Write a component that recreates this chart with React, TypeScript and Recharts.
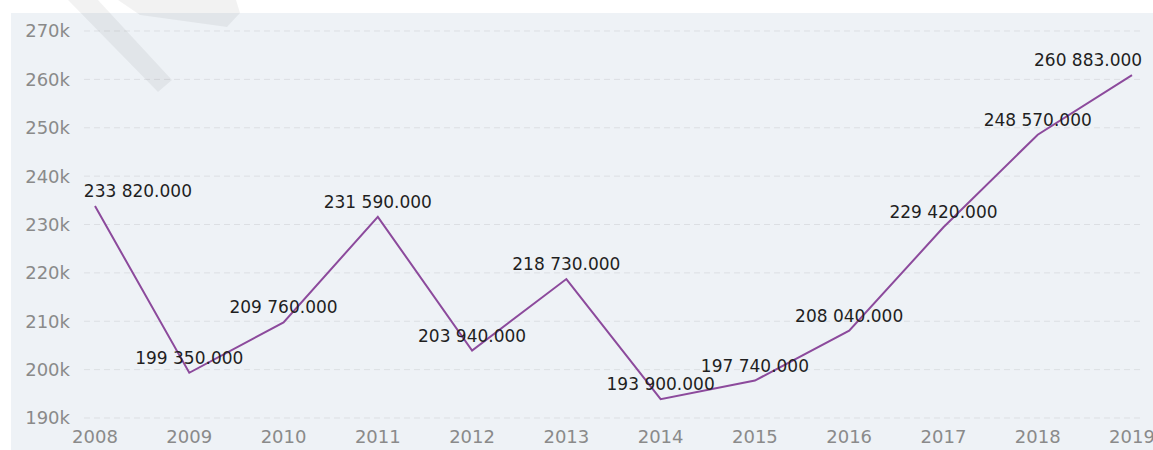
import { CartesianGrid, LabelList, Line, LineChart, XAxis, YAxis } from 'recharts'

const years = ['2008', '2009', '2010', '2011', '2012', '2013', '2014', '2015', '2016', '2017', '2018', '2019']
const values = [233820, 199350, 209760, 231590, 203940, 218730, 193900, 197740, 208040, 229420, 248570, 260883]
const yTicks = [190000, 200000, 210000, 220000, 230000, 240000, 250000, 260000, 270000]

const data = years.map((year, i) => ({ year, value: values[i] }))

const W = 1153
const H = 450
const PLOT_LEFT = 84
const PLOT_RIGHT = 1142
const FONT = '"DejaVu Sans", Verdana, sans-serif'

function fmt(v: number) {
  const [int, dec] = v.toFixed(3).split('.')
  return `${int.replace(/\B(?=(\d{3})+(?!\d))/g, ' ')}.${dec}`
}

// labels sit above the point, pushed back inside the plot at the edges
function PointLabel(props: any) {
  const { x, y, value } = props
  const text = fmt(value)
  const w = text.length * 9.8
  let cx = x
  if (cx - w / 2 < PLOT_LEFT) cx = PLOT_LEFT + w / 2
  if (cx + w / 2 > PLOT_RIGHT) cx = PLOT_RIGHT - w / 2
  return (
    <text
      x={cx}
      y={y - 9}
      textAnchor='middle'
      fontFamily={FONT}
      fontSize={17}
      fill='#1f1f1f'
    >
      {text}
    </text>
  )
}

export default function App() {
  return (
    <div style={{ position: 'absolute', left: 0, top: 0, width: W, height: H, background: '#fff', overflow: 'hidden' }}>
      <div style={{ position: 'absolute', left: 11, top: 13, right: 0, bottom: 0, background: '#eef2f6' }} />
      <div style={{ position: 'absolute', left: 0, top: 0 }}>
        <LineChart width={W} height={H} data={data} margin={{ top: 31, right: 11, left: 0, bottom: 0 }}>
          <CartesianGrid vertical={false} stroke='#dcdfe3' strokeDasharray='6 4' />
          <XAxis
            dataKey='year'
            interval={0}
            axisLine={false}
            tickLine={false}
            tickSize={0}
            tickMargin={12}
            height={32}
            padding={{ left: 11, right: 10 }}
            tick={{ fill: '#8a8a8a', fontSize: 18, fontFamily: FONT }}
          />
          <YAxis
            domain={[190000, 270000]}
            ticks={yTicks}
            width={84}
            axisLine={false}
            tickLine={false}
            tickSize={0}
            tickMargin={14}
            tickFormatter={(v) => `${v / 1000}k`}
            tick={{ fill: '#8a8a8a', fontSize: 18, fontFamily: FONT }}
          />
          <Line
            type='linear'
            dataKey='value'
            stroke='#8c4a9c'
            strokeWidth={2}
            dot={false}
            activeDot={false}
            isAnimationActive={false}
          >
            <LabelList dataKey='value' content={<PointLabel />} />
          </Line>
        </LineChart>
      </div>
      <svg width={W} height={H} style={{ position: 'absolute', left: 0, top: 0, pointerEvents: 'none' }}>
        <polygon points='68,0 98,0 172,80 158,92' fill='rgba(0,0,0,0.05)' />
        <polygon points='98,0 236,0 240,13 227,27 140,15 118,0' fill='rgba(0,0,0,0.05)' />
      </svg>
    </div>
  )
}
